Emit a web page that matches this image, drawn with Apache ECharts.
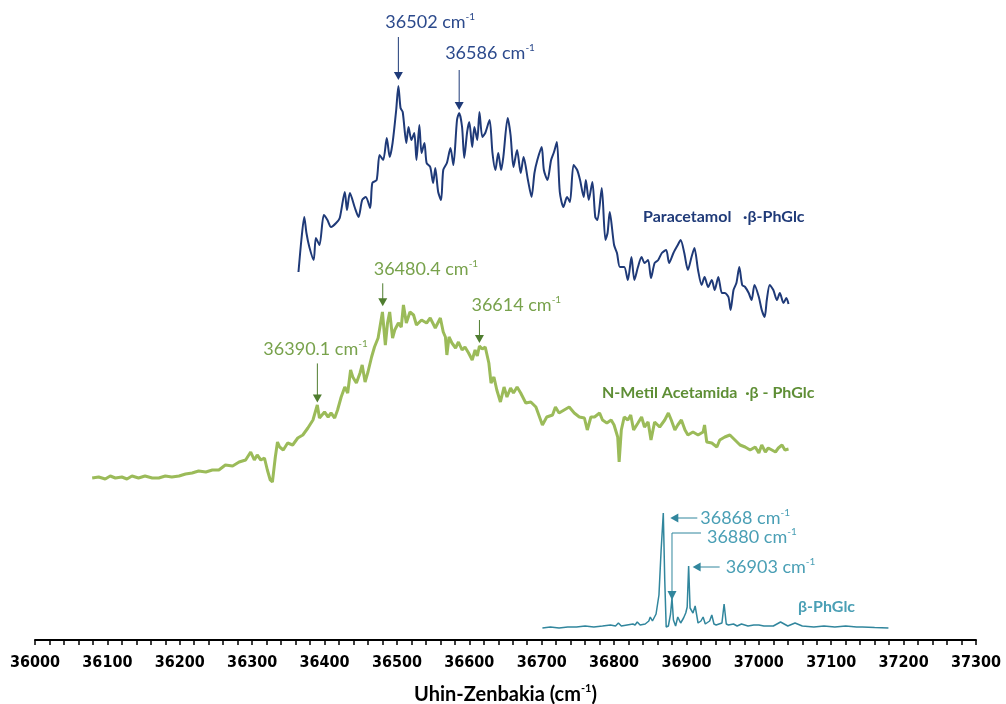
<!DOCTYPE html>
<html>
<head>
<meta charset="utf-8">
<script src="https://cdn.jsdelivr.net/npm/echarts@6/dist/echarts.min.js"></script>
<style>
  html, body { margin: 0; padding: 0; background: #ffffff; }
  #chart { width: 1006px; height: 704px; }
</style>
</head>
<body>
<div id="chart"></div>
<script>
// Wavenumber axis (cm-1)
const axisMin = 36000;
const axisMax = 37300;
const axisStep = 100;

// Paracetamol · β-PhGlc spectrum (wavenumber, intensity in offset units)
const paraWn = [36364,36368,36372,36375,36379,36385,36388,36393,36399,36404,36409,36416,36421,36428,36431,36435,36442,36447,36452,36457,36463,36466,36472,36476,36481,36486,36490,36494,36499,36502,36505,36508,36513,36516,36520,36524,36527,36531,36534,36538,36541,36546,36550,36553,36557,36561,36564,36569,36574,36578,36583,36586,36590,36593,36597,36600,36604,36607,36611,36614,36618,36622,36628,36632,36636,36640,36644,36647,36653,36657,36661,36666,36671,36675,36681,36686,36690,36694,36700,36703,36708,36713,36717,36721,36725,36730,36735,36739,36744,36749,36753,36758,36761,36765,36770,36774,36777,36783,36788,36791,36794,36800,36804,36808,36814,36819,36824,36828,36833,36838,36842,36847,36851,36856,36861,36866,36872,36876,36882,36888,36892,36897,36902,36907,36911,36916,36921,36925,36930,36935,36939,36944,36949,36953,36958,36961,36965,36969,36973,36977,36981,36986,36990,36994,37000,37004,37008,37011,37015,37020,37025,37029,37034,37038,37041];
const paraI = [36.8,40,42.3,40.7,39.3,38,40.2,39.5,42.5,42,41.3,41.7,42.2,44.8,43,44.7,43.2,42.3,44,44.3,43.2,45.7,46,48.5,48,50.2,48.3,49.7,53,55.4,53.2,52.8,49.7,51.3,50,50.7,48,51.5,48.7,49.7,47.7,47.3,45.7,47.2,44.8,44,47,47.7,49.2,47.5,52,52.7,51.3,48.2,50.8,51.8,49.3,51.3,50,52.8,50.3,50.7,52,48.7,47,48.7,47,48.3,52.2,50.5,47.3,49,46.7,48.3,46,44.3,46.7,48,49.3,47,46,48,48.8,49.8,44.8,43.3,44.3,43.8,47.5,47,46,44.3,46,44,45.8,42.3,42,45.2,40,40.7,42.8,39.5,38.7,37.3,37.3,36,38.3,36,37.3,38.3,37.7,38,36.2,37.7,38,38.7,39,37.7,38.7,39.5,40,38.7,37,38.3,39.2,37,35.5,36.3,35.3,36,35,36.3,34.7,34.7,34.3,33,35,35.7,37.3,35.5,35.3,34.7,34,35.5,34.3,33,32.3,34,35.5,35,34,34.7,33.7,34.2,33.6];

// N-Metil Acetamida · β-PhGlc spectrum
const nmaWn = [36079,36088,36097,36104,36111,36120,36127,36134,36143,36152,36162,36171,36180,36189,36199,36208,36217,36226,36236,36245,36254,36263,36273,36282,36291,36298,36303,36307,36312,36317,36321,36325,36328,36332,36335,36338,36343,36349,36356,36363,36370,36377,36384,36390,36393,36400,36405,36409,36414,36418,36423,36428,36432,36436,36439,36444,36449,36452,36456,36460,36465,36469,36474,36480,36484,36487,36490,36494,36497,36502,36506,36509,36513,36518,36523,36527,36534,36541,36546,36553,36560,36564,36567,36569,36572,36576,36581,36585,36590,36594,36599,36604,36608,36611,36614,36618,36622,36627,36630,36634,36638,36643,36648,36652,36657,36661,36666,36671,36678,36685,36692,36696,36701,36707,36715,36719,36724,36731,36738,36745,36752,36759,36763,36768,36773,36780,36784,36790,36796,36800,36805,36807,36810,36814,36819,36823,36827,36833,36838,36842,36847,36851,36856,36863,36870,36875,36879,36884,36888,36893,36898,36902,36909,36916,36923,36925,36928,36935,36942,36946,36953,36960,36967,36974,36981,36988,36995,37000,37004,37009,37013,37018,37023,37027,37032,37036,37041];
const nmaI = [16.2,16.3,16.1,16.4,16.2,16.3,16.1,16.4,16.2,16.4,16.2,16.2,16.4,16.3,16.4,16.6,16.7,16.9,16.8,17,17,17.5,17.4,17.8,18,18.8,18,18.5,18,18.2,17,16,15.8,18.3,19.8,19.3,19,19.7,19.5,20.2,20.5,21.2,22,23.5,22.2,22.8,22.3,22.7,22.2,23,24.3,25.3,24.7,27,26.3,25.7,26.7,27.5,25.8,26.8,28.3,29.3,30.2,32.8,29.5,31.7,32.8,30.2,31,31.7,31.3,33.5,31.7,32.8,32.5,31.5,32,31.7,32.2,31.2,32.2,30.8,30.3,28.5,30.3,29.7,29.2,29.8,29,29.3,28.7,28,29,28.4,29.4,29.1,29.3,27.7,25.7,26.3,25,23.8,25.3,24.3,25.2,24.7,25.3,24.7,23.7,23.8,23.3,22.5,21.5,22.3,22.5,23.3,22.7,23,23.3,22.7,22.3,22.2,21,22.3,22.3,22.7,22,21.7,22,21.5,20.3,17.8,21,22.3,22,22.5,21,21.7,22.3,21.3,21.8,20,21.8,21.3,22,22.7,22,21,21.5,22,21,20.5,20.8,20.5,20.8,21.5,19.8,19.7,19.3,20,20.3,20.5,20,19.5,19.3,19,19.3,18.7,19.5,18.8,19.2,19,18.8,19.2,19.5,19,19.1];

// β-PhGlc spectrum
const glcWn = [36701,36712,36724,36736,36748,36760,36772,36784,36795,36802,36806,36810,36818,36826,36829,36832,36836,36843,36848,36850,36853,36858,36862,36865,36868,36870,36872,36875,36878,36880,36882,36885,36888,36892,36896,36899,36901,36903,36905,36909,36912,36916,36920,36923,36926,36928,36932,36935,36938,36941,36949,36952,36955,36958,36965,36970,36976,36985,36993,37000,37007,37020,37030,37040,37050,37060,37076,37090,37105,37120,37135,37143,37160,37179];
const glcI = [1.2,1.3,1.2,1.3,1.3,1.4,1.3,1.4,1.5,1.4,1.7,1.4,1.5,1.6,1.5,1.8,1.5,1.6,1.9,2.3,1.9,2.6,4.5,9,12.7,6,1.3,1.4,2.6,4.2,2.0,1.4,2.3,1.7,2.2,2.7,3.3,7.4,3.2,2.7,3.4,1.7,1.9,2.3,1.6,1.5,1.9,2.5,1.6,1.5,1.7,3.6,1.6,1.5,1.6,1.4,1.6,1.4,1.5,1.5,1.4,1.4,1.8,1.4,1.7,1.4,1.3,1.4,1.3,1.4,1.3,1.3,1.25,1.2];

// Assigned band positions (cm-1)
const paraPeaks = [36502, 36586];
const nmaPeaks = [36390.1, 36480.4, 36614];
const glcPeaks = [36868, 36880, 36903];

// Series names
const paraName = 'Paracetamol   ·β-PhGlc';
const nmaName = 'N-Metil Acetamida  ·β - PhGlc';
const glcName = 'β-PhGlc';

const colors = {
  para: '#1f3a78', paraText: '#2c4a8c',
  nma: '#9bbb59', nmaText: '#78a24c', nmaArrow: '#4f7d2f', nmaName: '#5e8e35',
  glc: '#31869d', glcText: '#4a9fb5', glcName: '#4a9fb5'
};

function pairs(xs, ys) {
  const n = Math.min(xs.length, ys.length);
  const out = [];
  for (let i = 0; i < n; i++) out.push([xs[i], ys[i]]);
  return out;
}

function valueAt(wn, xs, ys) {
  for (let i = 1; i < xs.length; i++) {
    if (xs[i] >= wn) {
      const t = (wn - xs[i - 1]) / (xs[i] - xs[i - 1]);
      return ys[i - 1] + t * (ys[i] - ys[i - 1]);
    }
  }
  return ys[ys.length - 1];
}

const chart = echarts.init(document.getElementById('chart'), null, { renderer: 'canvas' });

const axisFont = '"DejaVu Sans Condensed", "Liberation Sans Narrow", "DejaVu Sans", sans-serif';
const labelFont = 'Lato, "Noto Sans", sans-serif';

chart.setOption({
  animation: false,
  backgroundColor: '#ffffff',
  grid: { left: 35, right: 30, top: 0, bottom: 62, outerBoundsMode: 'none', containLabel: false },
  xAxis: {
    type: 'value',
    min: axisMin,
    max: axisMax,
    interval: axisStep,
    axisLine: { show: true, lineStyle: { color: '#000000', width: 2 } },
    axisTick: { show: true, length: 5, lineStyle: { color: '#000000', width: 1.5 } },
    minorTick: { show: true, splitNumber: 5, length: 5, lineStyle: { color: '#000000', width: 1.5 } },
    splitLine: { show: false },
    axisLabel: {
      margin: 13,
      color: '#000000',
      fontFamily: axisFont,
      fontWeight: 'bold',
      fontSize: 16,
      formatter: v => String(v)
    },
    name: '{b|Uhin-Zenbakia (cm}{s|-1}{b|)}',
    nameLocation: 'middle',
    nameGap: 41,
    nameTextStyle: {
      rich: {
        b: { fontFamily: labelFont, fontWeight: 'bold', fontSize: 20, color: '#000000', lineHeight: 24 },
        s: { fontFamily: labelFont, fontWeight: 'bold', fontSize: 11, color: '#000000', verticalAlign: 'top', lineHeight: 24 }
      }
    }
  },
  yAxis: { type: 'value', show: false, min: -0.2, max: 64 },
  series: [
    {
      name: paraName, type: 'line', data: pairs(paraWn, paraI), showSymbol: false, symbol: 'none',
      smooth: 0.25, lineStyle: { color: colors.para, width: 2 }, z: 3
    },
    {
      name: nmaName, type: 'line', data: pairs(nmaWn, nmaI), showSymbol: false, symbol: 'none',
      lineStyle: { color: colors.nma, width: 3 }, z: 2
    },
    {
      name: glcName, type: 'line', data: pairs(glcWn, glcI), showSymbol: false, symbol: 'none',
      lineStyle: { color: colors.glc, width: 1.5 }, z: 2
    }
  ]
});

// Callout geometry for each assigned band (pixel offsets from the curve point)
const callouts = [
  { series: 0, xs: paraWn, ys: paraI, wn: paraPeaks[0], kind: 'down', gap: 6, len: 43, dx: -13, dy: -15, text: colors.paraText, arrow: colors.para },
  { series: 0, xs: paraWn, ys: paraI, wn: paraPeaks[1], kind: 'down', gap: 3, len: 40, dx: -14, dy: -17, text: colors.paraText, arrow: colors.para },
  { series: 1, xs: nmaWn, ys: nmaI, wn: nmaPeaks[0], kind: 'down', gap: 3, len: 39, dx: -54, dy: -14, text: colors.nmaText, arrow: colors.nmaArrow },
  { series: 1, xs: nmaWn, ys: nmaI, wn: nmaPeaks[1], kind: 'down', gap: 9, len: 23, dx: -9, dy: -14, text: colors.nmaText, arrow: colors.nmaArrow },
  { series: 1, xs: nmaWn, ys: nmaI, wn: nmaPeaks[2], kind: 'down', gap: 3, len: 23, dx: -8, dy: -15, text: colors.nmaText, arrow: colors.nmaArrow },
  { series: 2, xs: glcWn, ys: glcI, wn: glcPeaks[0], kind: 'left', tipDx: 7, tipDy: 5, len: 27, textDx: 30, text: colors.glcText, arrow: colors.glc },
  { series: 2, xs: glcWn, ys: glcI, wn: glcPeaks[1], kind: 'elbow', tipDy: 2, rise: 67, run: 29, textDx: 35, textDy: 4, text: colors.glcText, arrow: colors.glc },
  { series: 2, xs: glcWn, ys: glcI, wn: glcPeaks[2], kind: 'left', tipDx: 4, tipDy: 1, len: 27, textDx: 33, text: colors.glcText, arrow: colors.glc }
];

function richLabel(wn, x, y, color, align) {
  return {
    type: 'text', x: x, y: y, silent: true,
    style: {
      text: '{a|' + wn + ' cm}{s|-1}',
      align: align || 'left',
      verticalAlign: 'middle',
      rich: {
        a: { fontFamily: labelFont, fontSize: 18, fill: color, color: color, lineHeight: 21 },
        s: { fontFamily: labelFont, fontSize: 10, fill: color, color: color, verticalAlign: 'top', lineHeight: 21 }
      }
    }
  };
}

const graphics = [];
callouts.forEach(c => {
  const v = valueAt(c.wn, c.xs, c.ys);
  const p = chart.convertToPixel({ seriesIndex: c.series }, [c.wn, v]);
  const px = p[0], py = p[1];
  if (c.kind === 'down') {
    const tipY = py - c.gap;
    const topY = tipY - c.len;
    graphics.push({ type: 'line', silent: true, shape: { x1: px, y1: topY, x2: px, y2: tipY - 6 }, style: { stroke: c.arrow, lineWidth: 1 } });
    graphics.push({ type: 'polygon', silent: true, shape: { points: [[px - 4.5, tipY - 8], [px + 4.5, tipY - 8], [px, tipY]] }, style: { fill: c.arrow } });
    graphics.push(richLabel(c.wn, px + c.dx, topY + c.dy, c.text));
  } else if (c.kind === 'left') {
    const tx = px + c.tipDx, ty = py + c.tipDy;
    graphics.push({ type: 'line', silent: true, shape: { x1: tx + 6, y1: ty, x2: tx + c.len, y2: ty }, style: { stroke: c.arrow, lineWidth: 1 } });
    graphics.push({ type: 'polygon', silent: true, shape: { points: [[tx, ty], [tx + 8, ty - 4.5], [tx + 8, ty + 4.5]] }, style: { fill: c.arrow } });
    graphics.push(richLabel(c.wn, tx + c.textDx, ty, c.text));
  } else if (c.kind === 'elbow') {
    const tipY = py + c.tipDy;
    const elbowY = tipY - c.rise;
    graphics.push({ type: 'polyline', silent: true, shape: { points: [[px + c.run, elbowY], [px, elbowY], [px, tipY - 6]] }, style: { stroke: c.arrow, lineWidth: 1, fill: null } });
    graphics.push({ type: 'polygon', silent: true, shape: { points: [[px - 4.5, tipY - 9], [px + 4.5, tipY - 9], [px, tipY]] }, style: { fill: c.arrow } });
    graphics.push(richLabel(c.wn, px + c.textDx, elbowY + c.textDy, c.text));
  }
});

// Series names beside each trace
function nameLabel(text, x, y, color) {
  return {
    type: 'text', x: x, y: y, silent: true,
    style: { text: text, fill: color, font: 'bold 16px ' + labelFont, align: 'left', verticalAlign: 'middle' }
  };
}
graphics.push(nameLabel(paraName, 643, 217, colors.para));
graphics.push(nameLabel(nmaName, 602, 393, colors.nmaName));
graphics.push(nameLabel(glcName, 798, 607, colors.glcName));

chart.setOption({ graphic: graphics });
</script>
</body>
</html>
